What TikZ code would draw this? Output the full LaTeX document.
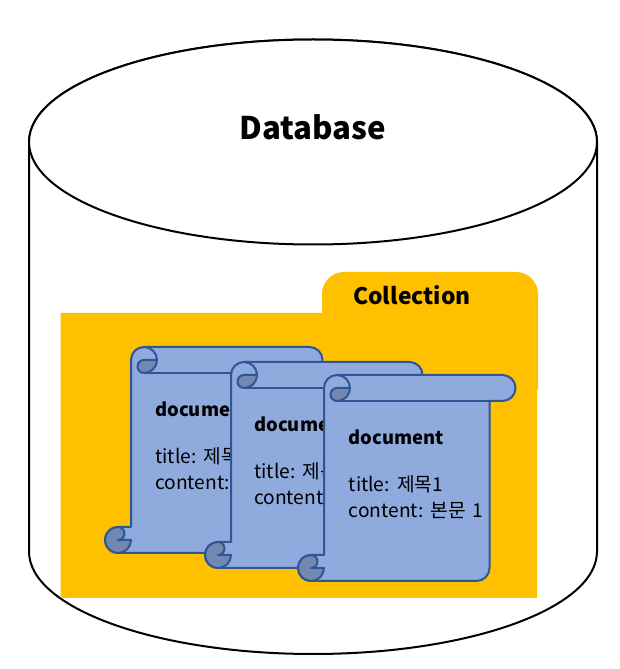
\documentclass[tikz,border=0pt]{standalone}
\usepackage{fontspec}
\setmainfont{Noto Sans CJK KR}
\definecolor{gold}{HTML}{FFC000}
\definecolor{paper}{HTML}{8FAADC}
\definecolor{paperdark}{HTML}{7288B0}
\definecolor{edgeblue}{HTML}{2F5597}
\tikzset{
  dbline/.style={draw=black,line width=1.5pt,fill=white},
  scrollbody/.style={draw=edgeblue,line width=1.5pt,fill=paper,line join=round},
  scrollcurl/.style={draw=edgeblue,line width=1.5pt,fill=paperdark,line join=round},
  scrollline/.style={draw=edgeblue,line width=1.5pt},
  lbl/.style={inner sep=0pt,anchor=base west,text=black},
  doctitle/.style={lbl,font=\fontsize{13.8pt}{16pt}\selectfont\bfseries},
  doctext/.style={lbl,font=\fontsize{14.4pt}{16pt}\selectfont},
}
% #1 name, #2 left of curl, #3 top (from top of picture), #4 text x offset
\newcommand{\docscroll}[4]{%
  \begin{scope}[shift={(#2,669-#3)}]
    \draw[scrollbody] (26,-13) arc[start angle=180,end angle=90,radius=13]
      -- (204.5,0) arc[start angle=90,end angle=-90,radius=13]
      -- (191.5,-26) -- (191.5,-193) arc[start angle=0,end angle=-90,radius=13]
      -- (13,-206) arc[start angle=270,end angle=90,radius=13]
      -- (26,-180) -- cycle;
    \draw[scrollcurl] (52,-13) arc[start angle=0,end angle=-90,radius=13]
      arc[start angle=-90,end angle=-270,radius=6.5] -- cycle;
    \draw[scrollline] (39,0) arc[start angle=90,end angle=0,radius=13];
    \draw[scrollline] (39,-26) -- (191.5,-26);
    \draw[scrollcurl] (13,-180) arc[start angle=90,end angle=360,radius=13]
      -- (13,-193) arc[start angle=-90,end angle=90,radius=6.5] -- cycle;
    \node[doctitle] (#1-head) at (#4,-70) {document};
    \node[doctext] (#1-title) at (#4,-117) {title:\hspace{1pt} 제목1};
    \node[doctext] (#1-content) at (#4,-142.5) {content:\hspace{1pt} 본문\hspace{2pt} 1};
  \end{scope}}
\begin{document}
\begin{tikzpicture}[x=0.75pt,y=0.75pt]
\useasboundingbox (0,0) rectangle (619,669);
% cylinder (coordinates measured from the bottom of the picture)
\path[dbline] (29,527) -- (29,117.5)
  arc[start angle=180,end angle=360,x radius=284,y radius=102.5]
  -- (597,527) arc[start angle=0,end angle=180,x radius=284,y radius=102.5] -- cycle;
\path[dbline] (313,527) ellipse[x radius=284,y radius=102.5];
\node[inner sep=0pt,anchor=base,font=\fontsize{23.4pt}{28pt}\selectfont\bfseries] (database) at (313,529) {Database};
% collection folder
\fill[gold] (60.5,71) -- (537,71) -- (537,279) -- (538,279) -- (538,375)
  arc[start angle=0,end angle=90,radius=22] -- (344,397)
  arc[start angle=90,end angle=180,radius=22] -- (322,356) -- (60.5,356) -- cycle;
\node[lbl,font=\fontsize{17.1pt}{20pt}\selectfont\bfseries] (collection) at (353,364) {Collection};
\docscroll{docA}{105}{347}{50}
\docscroll{docB}{205}{362}{49}
\docscroll{docC}{298}{375}{50.5}
\end{tikzpicture}
\end{document}
